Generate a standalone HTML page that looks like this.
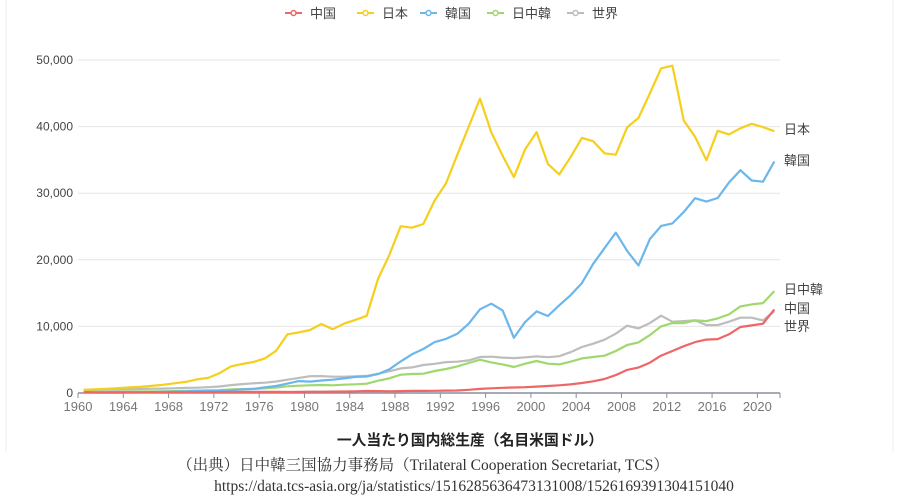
<!DOCTYPE html>
<html><head><meta charset="utf-8"><style>
body{margin:0;background:#fff;width:900px;height:499px;overflow:hidden;font-family:"Liberation Sans","Noto Sans CJK JP",sans-serif}
</style></head><body>
<svg width="900" height="499" xmlns="http://www.w3.org/2000/svg" id="svg">
<line x1="6" y1="0" x2="6" y2="452" stroke="#eee"/>
<line x1="893" y1="0" x2="893" y2="452" stroke="#eee"/>
<g id="grid"></g><g id="axes"></g><g id="series"></g><g id="legend"></g>
<text x="470" y="445" text-anchor="middle" font-size="14.8" font-weight="bold" fill="#222">一人当たり国内総生産（名目米国ドル）</text>
<text x="423" y="470" text-anchor="middle" font-size="15.5" fill="#333" font-family="'Liberation Serif','Noto Serif CJK SC',serif">（出典）日中韓三国協力事務局（Trilateral Cooperation Secretariat, TCS）</text>
<text x="474" y="491" text-anchor="middle" font-size="15.5" fill="#333" font-family="'Liberation Serif','Noto Serif CJK SC',serif">https://data.tcs-asia.org/ja/statistics/1516285636473131008/1526169391304151040</text>
</svg>
<script>
const years=[];for(let y=1960;y<=2021;y++)years.push(y);
const seriesNames=["中国","日本","韓国","日中韓","世界"];
const china=[90,76,71,74,85,98,104,97,91,100,113,119,132,157,160,178,165,185,156,184,195,197,203,225,251,294,282,252,284,311,318,333,366,377,473,610,709,782,829,873,959,1053,1149,1289,1509,1753,2099,2694,3468,3832,4550,5614,6301,7020,7636,8016,8094,8817,9905,10144,10409,12556];
const japan=[479,563,633,718,835,919,1059,1229,1451,1669,2038,2272,2967,3997,4354,4659,5197,6335,8821,9105,9463,10361,9578,10425,10978,11585,17112,20745,25052,24813,25371,28925,31465,35766,39934,44198,39150,35636,32424,36610,39169,34406,32821,35387,38299,37813,35991,35779,39876,41309,44968,48760,49145,40898,38475,34961,39375,38834,39751,40416,39918,39313];
const korea=[158,94,106,146,124,108,133,161,198,243,279,301,323,406,563,617,834,1055,1405,1783,1715,1883,1992,2199,2413,2482,2835,3555,4749,5818,6610,7637,8127,8885,10385,12565,13403,12399,8282,10672,12257,11561,13165,14673,16496,19403,21743,24086,21350,19144,23087,25096,25467,27180,29253,28737,29274,31601,33447,31902,31721,34758];
const tri=[150,160,170,180,200,220,240,260,290,320,360,390,440,520,580,620,700,820,1000,1100,1150,1200,1150,1250,1300,1400,1850,2200,2750,2850,2900,3300,3600,4000,4500,5000,4600,4300,3900,4400,4800,4400,4300,4700,5200,5400,5600,6300,7200,7600,8700,10000,10500,10500,10900,10800,11200,11800,13000,13300,13500,15300];
const world=[450,460,490,520,560,600,640,660,700,760,800,870,980,1190,1340,1460,1550,1720,1990,2260,2520,2540,2450,2450,2500,2570,2900,3260,3700,3850,4200,4390,4640,4700,4900,5400,5450,5320,5240,5340,5500,5370,5520,6120,6900,7400,8000,8900,10100,9700,10500,11600,10700,10800,10900,10200,10200,10700,11300,11300,10900,12300];
const yTicks=[0,10000,20000,30000,40000,50000];
const xTickLabels=[1960,1964,1968,1972,1976,1980,1984,1988,1992,1996,2000,2004,2008,2012,2016,2020];
const colors=["#ee6666","#f5cf1c","#6bb7ec","#9fd86d","#bdbdbd"];
const endLabels=["中国","日本","韓国","日中韓","世界"];
const endLabelY=[308,129,160,289,326];
const X0=78,X1=780,Y0=393,Y1=60,bw=(X1-X0)/years.length;
const xEdge=i=>X0+i*bw, xc=i=>X0+(i+0.5)*bw, y=v=>Y0-(v/50000)*(Y0-Y1);
const NS="http://www.w3.org/2000/svg";
function mk(t,a,p){const e=document.createElementNS(NS,t);for(const k in a)e.setAttribute(k,a[k]);p.appendChild(e);return e;}
const grid=document.getElementById('grid'),axes=document.getElementById('axes'),ser=document.getElementById('series'),leg=document.getElementById('legend');
yTicks.forEach(v=>{
 if(v>0){const g=mk('line',{x1:X0,x2:X1,y1:y(v),y2:y(v),stroke:'#e6e6e6'},grid);
 
 }
 const t=mk('text',{x:73,y:y(v)+4,'text-anchor':'end','font-size':12,fill:'#444'},axes);t.textContent=v.toLocaleString('en-US');
 
 
});
const ax=mk('line',{x1:X0,x2:X1,y1:Y0,y2:Y0,stroke:'#8a8f9c','stroke-width':1.5},axes);


xTickLabels.forEach(yr=>{const i=yr-1960;
 const tk=mk('line',{x1:xEdge(i),x2:xEdge(i),y1:Y0,y2:Y0+5,stroke:'#8a8f9c'},axes);
 
 
 const t=mk('text',{x:xEdge(i),y:Y0+18,'text-anchor':'middle','font-size':13,fill:'#777'},axes);t.textContent=yr;
 
 
});
const endT=mk('line',{x1:X1,x2:X1,y1:Y0,y2:Y0+5,stroke:'#8a8f9c'},axes);


const data=[china,japan,korea,tri,world];
const order=[4,3,2,1,0];
order.forEach(s=>{
 const d=data[s].map((v,i)=>(i?'L':'M')+xc(i).toFixed(1)+','+y(v).toFixed(1)).join('');
 const p=mk('path',{d:d,fill:'none',stroke:colors[s],'stroke-width':2.2,'stroke-linejoin':'round'},ser);
 
 
 const t=mk('text',{x:784,y:endLabelY[s]+5,'font-size':13,fill:'#444'},ser);t.textContent=endLabels[s];
 
 
});
const lx=[285,357,420,487,567];
seriesNames.forEach((n,s)=>{
 const g=mk('g',{},leg);
 
 
 mk('line',{x1:lx[s],x2:lx[s]+17,y1:13,y2:13,stroke:colors[s],'stroke-width':2},g);
 mk('circle',{cx:lx[s]+8.5,cy:13,r:2.5,fill:'#fff',stroke:colors[s],'stroke-width':1.5},g);
 const t=mk('text',{x:lx[s]+25,y:18,'font-size':13,fill:'#444'},g);t.textContent=n;
});
</script>
</body></html>
